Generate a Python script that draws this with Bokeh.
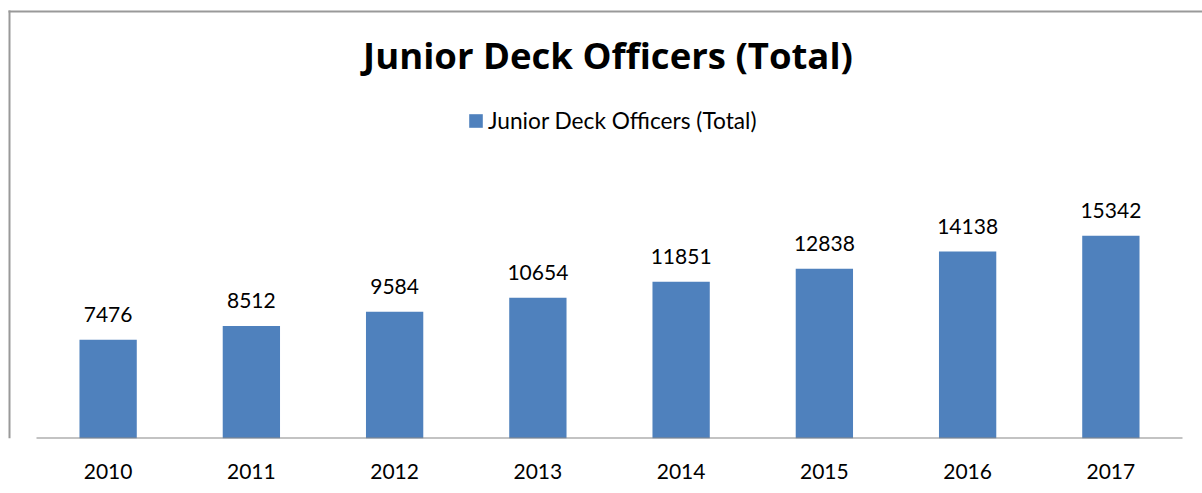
from bokeh.plotting import figure
from bokeh.models import (ColumnDataSource, Range1d, LabelSet, Label, FixedTicker,
                          Legend, LegendItem)
from bokeh.core.properties import value
from bokeh.embed import file_html
from bokeh.resources import INLINE

years = ["2010", "2011", "2012", "2013", "2014", "2015", "2016", "2017"]
values = [7476, 8512, 9584, 10654, 11851, 12838, 14138, 15342]
series_name = "Junior Deck Officers (Total)"
title_text = "Junior Deck Officers (Total)"

FONT = "Lato"
TITLE_FONT = "Open Sans"
BAR = "#4F81BD"

W, H = 1202, 493
# plot-area geometry (pixels)
PX_LEFT, PX_RIGHT = 36, 1182      # extent of the category band
PX_BASE = 438                     # baseline (value 0)
CAT_PX = (PX_RIGHT - PX_LEFT) / len(years)
Y_PER_PX = 18000 / 238.0


def xd(px):
    return (px - PX_LEFT) / CAT_PX


def yd(py):
    return (PX_BASE - py) * Y_PER_PX


xs = [i + 0.5 for i in range(len(years))]
src = ColumnDataSource(dict(x=xs, year=years, value=values, label=[str(v) for v in values]))

p = figure(width=W, height=H,
           x_range=Range1d(xd(0), xd(W)), y_range=Range1d(0, yd(0)),
           output_backend="svg", toolbar_location=None,
           min_border_left=0, min_border_right=0, min_border_top=0,
           min_border_bottom=H - PX_BASE)
p.outline_line_color = None
p.background_fill_color = "white"
p.border_fill_color = "white"

r = p.vbar(x="x", top="value", width=0.4, source=src, fill_color=BAR, line_color=None)

# baseline (category axis line)
p.segment(x0=[0], y0=[0], x1=[len(years)], y1=[0], line_color="#878787", line_width=2)

# chart border (top and left edges visible in the reference)
p.segment(x0=[xd(9), xd(8)], y0=[yd(10), yd(11)], x1=[xd(9), xd(W)], y1=[0, yd(11)],
          line_color="#999999", line_width=2)

p.xgrid.visible = False
p.ygrid.visible = False
p.yaxis.visible = False
ax = p.xaxis[0]
ax.ticker = FixedTicker(ticks=xs)
ax.major_label_overrides = {x: y for x, y in zip(xs, years)}
ax.axis_line_color = None
ax.major_tick_line_color = None
ax.minor_tick_line_color = None
ax.major_label_text_font = FONT
ax.major_label_text_font_size = "21px"
ax.major_label_text_color = "black"
ax.major_label_standoff = 19

labels = LabelSet(x="x", y="value", text="label", source=src, y_offset=18,
                  text_align="center", text_baseline="alphabetic",
                  text_font=value(FONT), text_font_size=value("21px"), text_color="black")
p.add_layout(labels)

title = Label(x=xd(607.5), y=yd(54), text=title_text,
              text_align="center", text_baseline="alphabetic", text_font=TITLE_FONT,
              text_font_size="36.5px", text_font_style="bold", text_color="black")
p.add_layout(title)

legend = Legend(items=[LegendItem(label=series_name, renderers=[r])],
                location=(467, PX_BASE - 134), orientation="horizontal",
                glyph_width=17, glyph_height=17, label_standoff=4, label_height=17,
                label_text_font=FONT, label_text_font_size="22.7px", label_text_color="black",
                padding=0, margin=0, spacing=0, border_line_alpha=0, background_fill_alpha=0)
p.add_layout(legend, "center")

open("out.html", "w").write(file_html(p, INLINE))
